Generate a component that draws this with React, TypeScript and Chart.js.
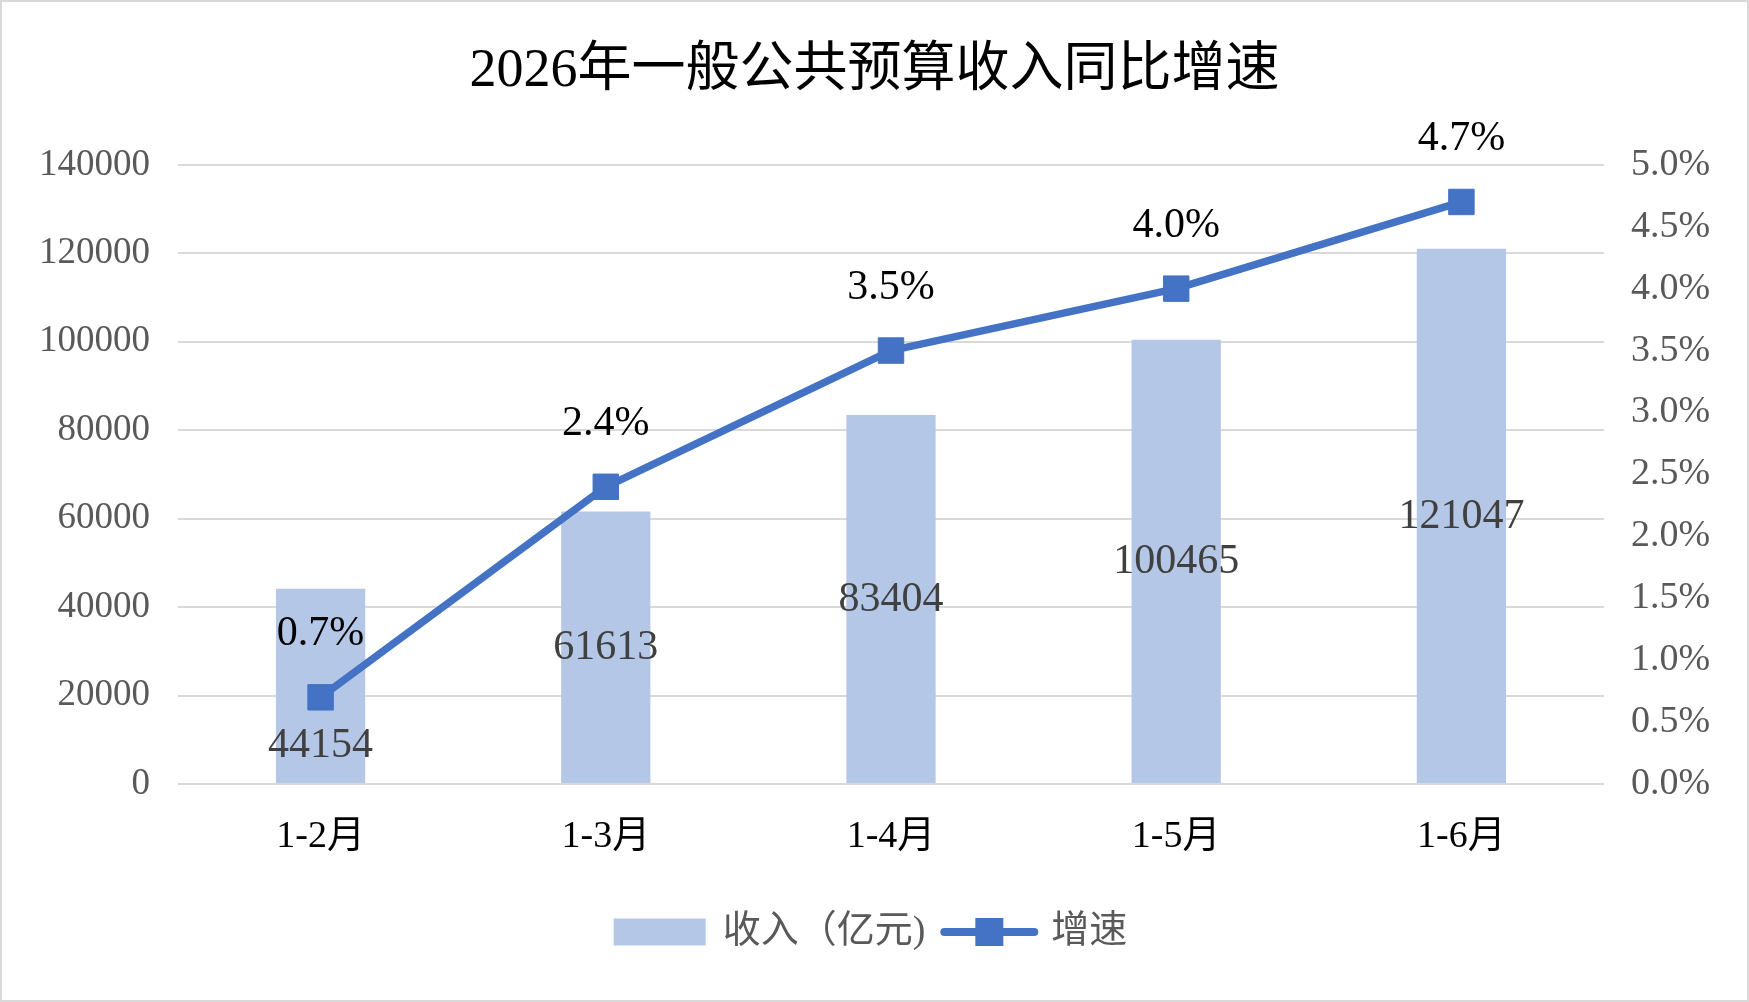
import React, { useEffect, useRef } from 'react';
import { Chart } from 'chart.js/auto';

const categories = ['1-2月', '1-3月', '1-4月', '1-5月', '1-6月'];
const revenue = [44154, 61613, 83404, 100465, 121047];
const growth = [0.7, 2.4, 3.5, 4.0, 4.7];
const revenueTicks = [0, 20000, 40000, 60000, 80000, 100000, 120000, 140000];
const growthTicks = [0, 0.5, 1.0, 1.5, 2.0, 2.5, 3.0, 3.5, 4.0, 4.5, 5.0];

const FONT = '"Liberation Serif", "Noto Sans CJK SC", serif';
const BAR_COLOR = '#b4c7e7';
const LINE_COLOR = '#4472c4';

// background, data labels, Excel-style legend and outer border
const chartDecor = {
  id: 'chartDecor',
  beforeDraw(chart: any) {
    const { ctx, width, height } = chart;
    ctx.save();
    ctx.fillStyle = '#ffffff';
    ctx.fillRect(0, 0, width, height);
    ctx.restore();
  },
  afterDatasetsDraw(chart: any) {
    const { ctx } = chart;
    const barMeta = chart.getDatasetMeta(0);
    const lineMeta = chart.getDatasetMeta(1);
    ctx.save();
    ctx.font = `42px ${FONT}`;
    ctx.textAlign = 'center';
    ctx.textBaseline = 'middle';
    barMeta.data.forEach((bar: any, i: number) => {
      const pt = lineMeta.data[i];
      let y = (bar.y + bar.base) / 2;
      // move the label below the marker when they would collide
      if (Math.abs(y - pt.y) < 40) y = pt.y + 48;
      ctx.fillStyle = '#404040';
      ctx.fillText(String(revenue[i]), bar.x, y + 1);
    });
    lineMeta.data.forEach((pt: any, i: number) => {
      ctx.fillStyle = '#000000';
      ctx.fillText(growth[i].toFixed(1) + '%', pt.x, pt.y - 63);
    });
    ctx.restore();
  },
  afterDraw(chart: any) {
    const { ctx, width, height } = chart;
    ctx.save();
    // legend
    ctx.font = `38px ${FONT}`;
    ctx.textBaseline = 'middle';
    ctx.textAlign = 'left';
    const t1 = '收入（亿元)';
    const t2 = '增速';
    const w1 = ctx.measureText(t1).width;
    const w2 = ctx.measureText(t2).width;
    const boxW = 92;
    const boxH = 27;
    const lineW = 98;
    const total = boxW + 17 + w1 + 15 + lineW + 13 + w2;
    let x = width / 2 - total / 2 - 4;
    const cy = 932;
    ctx.fillStyle = BAR_COLOR;
    ctx.fillRect(x, cy - boxH / 2, boxW, boxH);
    x += boxW + 17;
    ctx.fillStyle = '#595959';
    ctx.fillText(t1, x, cy);
    x += w1 + 15;
    ctx.strokeStyle = LINE_COLOR;
    ctx.lineWidth = 8;
    ctx.lineCap = 'round';
    ctx.beginPath();
    ctx.moveTo(x + 4, cy);
    ctx.lineTo(x + lineW - 4, cy);
    ctx.stroke();
    ctx.fillStyle = LINE_COLOR;
    ctx.fillRect(x + lineW / 2 - 14, cy - 14, 28, 28);
    x += lineW + 13;
    ctx.fillStyle = '#595959';
    ctx.fillText(t2, x, cy);
    // border
    ctx.strokeStyle = '#d9d9d9';
    ctx.lineWidth = 2;
    ctx.strokeRect(1, 1, width - 2, height - 2);
    ctx.restore();
  },
};

const App = () => {
  const chartRef = useRef<HTMLCanvasElement | null>(null);
  const chartInstance = useRef<Chart | null>(null);

  useEffect(() => {
    document.body.style.margin = '0';
    if (chartRef.current) {
      if (chartInstance.current) {
        chartInstance.current.destroy();
      }
      const ctx = chartRef.current.getContext('2d');
      chartInstance.current = new Chart(ctx as any, {
        type: 'bar',
        data: {
          labels: categories,
          datasets: [
            {
              type: 'bar',
              label: '收入（亿元)',
              data: revenue,
              backgroundColor: BAR_COLOR,
              borderWidth: 0,
              categoryPercentage: 1,
              barPercentage: 0.313,
              yAxisID: 'y',
              order: 1,
            },
            {
              type: 'line',
              label: '增速',
              data: growth,
              borderColor: LINE_COLOR,
              backgroundColor: LINE_COLOR,
              borderWidth: 7.5,
              borderJoinStyle: 'round',
              pointStyle: 'rect',
              pointRadius: 18,
              pointBorderWidth: 1,
              pointBackgroundColor: LINE_COLOR,
              pointBorderColor: LINE_COLOR,
              tension: 0,
              yAxisID: 'y1',
              order: 0,
            },
          ],
        },
        options: {
          responsive: true,
          maintainAspectRatio: false,
          animation: false,
          layout: { padding: 0 },
          plugins: {
            legend: { display: false },
            tooltip: { enabled: false },
            title: {
              display: true,
              text: '2026年一般公共预算收入同比增速',
              color: '#000000',
              font: { family: FONT, size: 54, weight: 'normal', lineHeight: 1.2 },
              padding: { top: 39, bottom: 61 },
            },
          },
          scales: {
            x: {
              grid: { display: false, drawTicks: false },
              border: { display: false },
              ticks: {
                color: '#000000',
                font: { family: FONT, size: 38 },
                padding: 30,
              },
              afterFit: (s: any) => {
                s.height = 218;
              },
            },
            y: {
              position: 'left',
              min: 0,
              max: 140000,
              afterBuildTicks: (s: any) => {
                s.ticks = revenueTicks.map((v) => ({ value: v }));
              },
              grid: { color: '#d9d9d9', lineWidth: 2, drawTicks: false },
              border: { display: false },
              ticks: {
                color: '#595959',
                font: { family: FONT, size: 37 },
                padding: 28,
                callback: (v: any) => String(v),
              },
              afterFit: (s: any) => {
                s.width = 178;
              },
            },
            y1: {
              position: 'right',
              min: 0,
              max: 5,
              afterBuildTicks: (s: any) => {
                s.ticks = growthTicks.map((v) => ({ value: v }));
              },
              grid: { display: false, drawTicks: false },
              border: { display: false },
              ticks: {
                color: '#595959',
                font: { family: FONT, size: 38 },
                padding: 27,
                callback: (v: any) => Number(v).toFixed(1) + '%',
              },
              afterFit: (s: any) => {
                s.width = 145;
              },
            },
          },
        },
        plugins: [chartDecor],
      });
    }
    return () => {
      if (chartInstance.current) {
        chartInstance.current.destroy();
        chartInstance.current = null;
      }
    };
  }, []);

  return (
    <div style={{ position: 'relative', width: '1749px', height: '1002px' }}>
      <canvas ref={chartRef} />
    </div>
  );
};

export default App;
